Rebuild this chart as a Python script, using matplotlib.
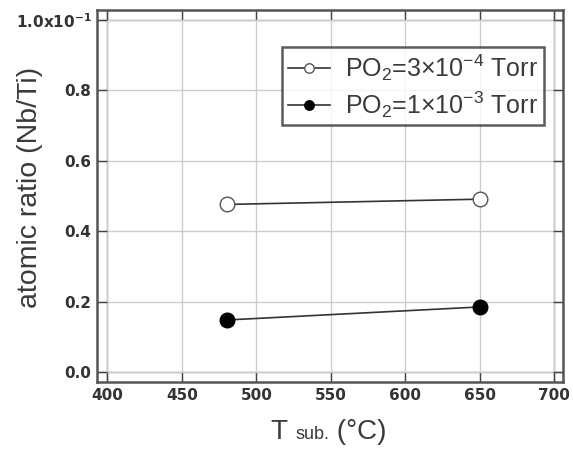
import matplotlib
matplotlib.use("Agg")
import matplotlib.pyplot as plt
from matplotlib.offsetbox import TextArea, HPacker, AnchoredOffsetbox

# data (atomic ratio Nb/Ti in units of 1e-1)
t_sub = [480, 650]
ratio_low = [0.476, 0.491]    # PO2 = 3x10^-4 Torr
ratio_high = [0.148, 0.185]   # PO2 = 1x10^-3 Torr
x_ticks = [400, 450, 500, 550, 600, 650, 700]
y_ticks = [0.0, 0.2, 0.4, 0.6, 0.8, 1.0]
y_tick_labels = ["0.0", "0.2", "0.4", "0.6", "0.8", r"1.0x10$^{\mathregular{-1}}$"]
labels = [r"PO$\mathregular{_2}$=3×10$^{\mathregular{-4}}$ Torr",
          r"PO$\mathregular{_2}$=1×10$^{\mathregular{-3}}$ Torr"]

plt.rcParams['font.family'] = ['Liberation Sans', 'DejaVu Sans']
plt.rcParams['mathtext.fontset'] = 'custom'
plt.rcParams['mathtext.rm'] = 'Liberation Sans'

W, H = 573, 455
fig = plt.figure(figsize=(W / 100, H / 100), dpi=100)
ax = fig.add_axes([97 / W, 1 - 382 / H, 466 / W, 372 / H])

ax.plot(t_sub, ratio_low, '-', color='#333333', lw=1.2, marker='o', ms=10.5,
        mfc='white', mec='#555555', mew=1.0, label=labels[0], zorder=3)
ax.plot(t_sub, ratio_high, '-', color='#333333', lw=1.2, marker='o', ms=10.5,
        mfc='black', mec='black', label=labels[1], zorder=3)

ax.set_xlim(393, 706)
ax.set_ylim(-0.028, 1.028)
ax.set_xticks(x_ticks)
ax.set_yticks(y_ticks)
ax.grid(True, color='#cccccc', lw=1.0)
for x in (400, 700):
    ax.axvline(x, color='#9a9a9a', lw=1.0, zorder=1)
for y in (0.0, 1.0):
    ax.axhline(y, color='#9a9a9a', lw=1.0, zorder=1)

ax.tick_params(direction='in', length=7, width=1.0, top=True, right=True,
               colors='#444444', pad=4)
ax.set_xticklabels([str(v) for v in x_ticks], fontsize=11, fontweight='bold',
                   family='DejaVu Sans', color='#333333')
ax.set_yticklabels(y_tick_labels, fontsize=11, fontweight='bold',
                   family='DejaVu Sans', color='#333333')
for s in ax.spines.values():
    s.set_linewidth(1.8)
    s.set_color('#555555')

# y label
fig.text(30 / W, 1 - 187 / H, "atomic ratio (Nb/Ti)", rotation=90,
         ha='center', va='center', fontsize=20.5, color='#3a3a3a')

# x label with small "sub."
parts = [TextArea("T ", textprops=dict(size=20, color='#3a3a3a')),
         TextArea("sub.", textprops=dict(size=13, color='#3a3a3a')),
         TextArea(" (°C)", textprops=dict(size=20, color='#3a3a3a'))]
box = HPacker(children=parts, align="baseline", pad=0, sep=0)
anch = AnchoredOffsetbox(loc='center', child=box, pad=0, frameon=False,
                         bbox_to_anchor=(329 / W, 1 - 432 / H),
                         bbox_transform=fig.transFigure, borderpad=0)
fig.add_artist(anch)

leg = ax.legend(loc='upper right', bbox_to_anchor=(0.959, 0.9005), fontsize=18,
                frameon=True, fancybox=False, edgecolor='#333333',
                handlelength=1.7, borderpad=0.22, labelspacing=0.25,
                handletextpad=0.6, borderaxespad=0, markerscale=0.65)
leg.get_frame().set_linewidth(1.8)
for t in leg.get_texts():
    t.set_color('#3a3a3a')

fig.savefig("out.png", dpi=100)
